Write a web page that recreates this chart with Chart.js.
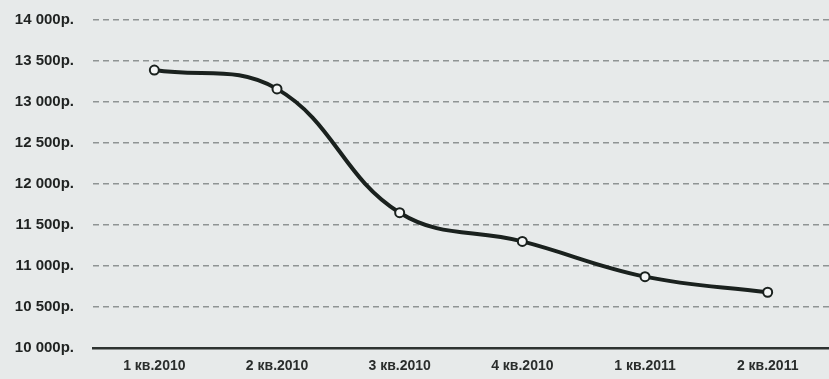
<!DOCTYPE html>
<html lang="ru">
<head>
    <meta charset="UTF-8">
    <title>Выручка по кварталам</title>
    <script src="https://cdn.jsdelivr.net/npm/chart.js"></script>
    <style>
        body {
            margin: 0;
            padding: 0;
            background-color: #e7eaea;
        }

        .chart-box {
            width: 829px;
            height: 379px;
        }

        canvas {
            filter: blur(0.4px);
        }
    </style>
</head>
<body>
    <div class="chart-box">
        <canvas id="revenueChart" width="829" height="379"></canvas>
    </div>

    <script>
        // Quarterly values, rubles
        const quarters = ['1 кв.2010', '2 кв.2010', '3 кв.2010', '4 кв.2010', '1 кв.2011', '2 кв.2011'];
        const revenue = [13390, 13160, 11650, 11300, 10870, 10680];

        // Y axis range and step
        const yMin = 10000;
        const yMax = 14000;
        const yStep = 500;

        function rub(v) {
            const s = String(Math.round(v));
            return s.replace(/\B(?=(\d{3})+(?!\d))/g, ' ') + 'р.';
        }

        const ctx = document.getElementById('revenueChart').getContext('2d');

        const revenueChart = new Chart(ctx, {
            type: 'line',
            data: {
                labels: quarters,
                datasets: [{
                    label: 'Выручка',
                    data: revenue,
                    borderColor: '#1a211e',
                    borderWidth: 4,
                    tension: 0.4,
                    fill: false,
                    pointRadius: 4.5,
                    pointBackgroundColor: '#f4f6f6',
                    pointBorderColor: '#1a211e',
                    pointBorderWidth: 2
                }]
            },
            options: {
                responsive: false,
                animation: false,
                layout: {
                    autoPadding: false,
                    padding: { top: 20, right: 0, bottom: 0, left: 0 }
                },
                plugins: {
                    legend: { display: false },
                    tooltip: { enabled: false }
                },
                scales: {
                    x: {
                        offset: true,
                        grid: {
                            display: false,
                            drawTicks: false
                        },
                        border: {
                            display: true,
                            color: '#2e3331',
                            width: 2.5
                        },
                        ticks: {
                            color: '#2a2d2c',
                            padding: 10,
                            font: { family: 'Arial, "Liberation Sans"', size: 14, weight: 'bold' }
                        },
                        afterFit: (scale) => { scale.height = 31; }
                    },
                    y: {
                        min: yMin,
                        max: yMax,
                        ticks: {
                            stepSize: yStep,
                            color: '#1f2221',
                            padding: 19,
                            font: { family: 'Arial, "Liberation Sans"', size: 15, weight: 'bold' },
                            callback: (v) => rub(v)
                        },
                        grid: {
                            drawTicks: false,
                            color: (c) => c.tick && c.tick.value === yMin ? 'rgba(0,0,0,0)' : '#8f9494',
                            lineWidth: 1.5
                        },
                        border: {
                            display: false,
                            dash: [6, 4]
                        },
                        // fixed label column; tick padding should not push the plot down
                        afterFit: (scale) => {
                            scale.width = 93;
                            scale.paddingTop = 0;
                            scale.paddingBottom = 0;
                        }
                    }
                }
            }
        });
    </script>
</body>
</html>
